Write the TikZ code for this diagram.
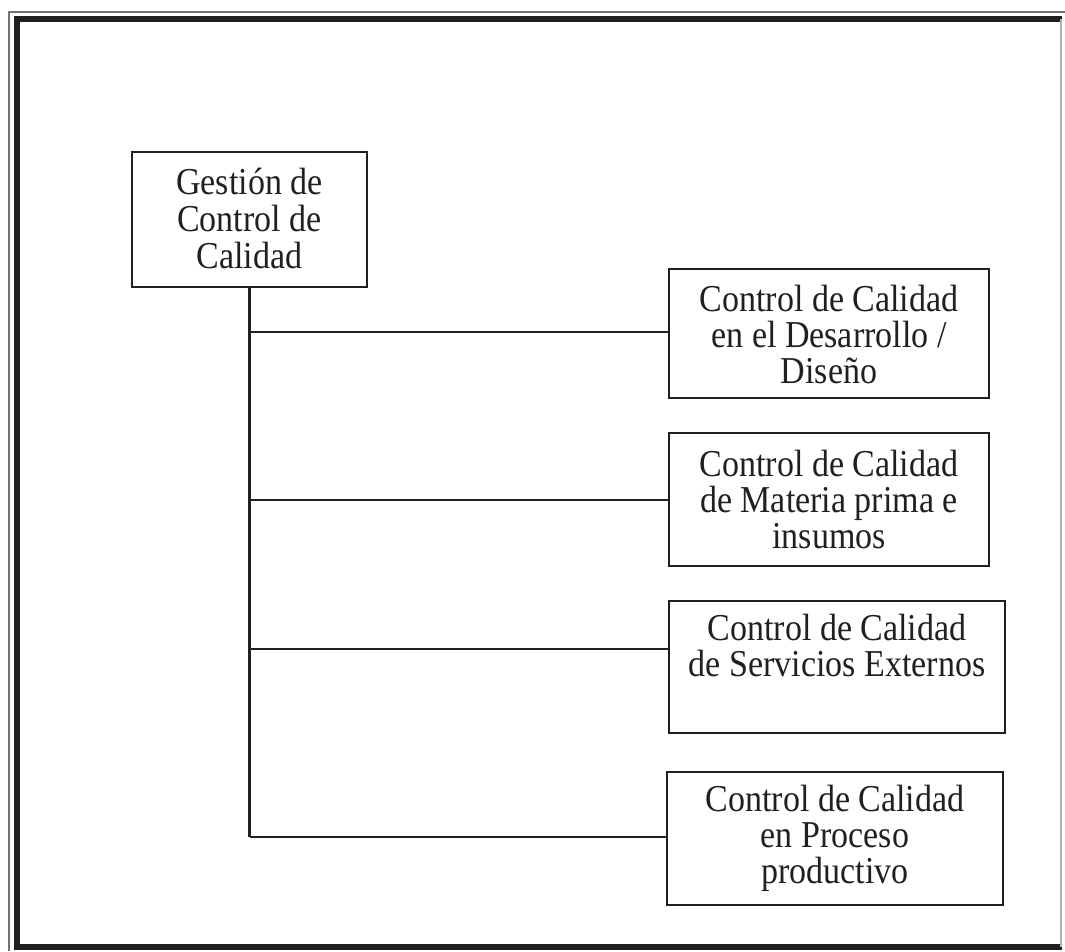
\documentclass[tikz,border=0pt]{standalone}
\usepackage{fontspec}
\setmainfont{Liberation Serif}
\newfontfamily\boxfont[FakeStretch=0.895]{Liberation Serif}
\definecolor{ink}{RGB}{35,31,32}
\begin{document}
\begin{tikzpicture}[x=1pt,y=-1pt,
  box/.style={draw=ink, line width=2.6pt, inner sep=0pt},
  label/.style={anchor=north, inner sep=0pt, align=center,
                font=\boxfont\fontsize{38}{36}\selectfont, text=ink},
  link/.style={draw=ink, line width=2.2pt}]
\useasboundingbox (0,0) rectangle (1065,951);
\fill[white] (0,0) rectangle (1065,951);

% page frame
\draw[black!55, line width=1.2pt] (9,951) -- (9,12) -- (1065,12);
\draw[ink, line width=6pt] (1062,19) -- (17,19) -- (17,947) -- (1062,947);
\draw[black!30, line width=1.2pt] (1061,19) -- (1061,947);

% boxes
\node[box, minimum width=235pt, minimum height=135pt] (root) at (249.5,219.5) {};
\node[box, minimum width=320pt, minimum height=129pt] (b1) at (829,333.5) {};
\node[box, minimum width=320pt, minimum height=133pt] (b2) at (829,499.5) {};
\node[box, minimum width=336pt, minimum height=132pt] (b3) at (837,667) {};
\node[box, minimum width=336pt, minimum height=133pt] (b4) at (835,838.5) {};

% texts
\node[label] (troot) at (249.5,168) {Gestión de\\[1pt]Control de\\[1pt]Calidad};
\node[label] (t1) at (829,285) {Control de Calidad\\en el Desarrollo /\\Diseño};
\node[label] (t2) at (829,450) {Control de Calidad\\de Materia prima e\\insumos};
\node[label] (t3) at (837,614) {Control de Calidad\\de Servicios Externos};
\node[label] (t4) at (835,785) {Control de Calidad\\en Proceso\\productivo};

% connectors
\coordinate (j1) at (249.5,332);
\coordinate (j2) at (249.5,500);
\coordinate (j3) at (249.5,649);
\coordinate (j4) at (249.5,837);
\draw[link] (root.south) -- (j4);
\draw[link] (j1) -- (j1 -| b1.west);
\draw[link] (j2) -- (j2 -| b2.west);
\draw[link] (j3) -- (j3 -| b3.west);
\draw[link] (j4) -- (j4 -| b4.west);
\end{tikzpicture}
\end{document}
